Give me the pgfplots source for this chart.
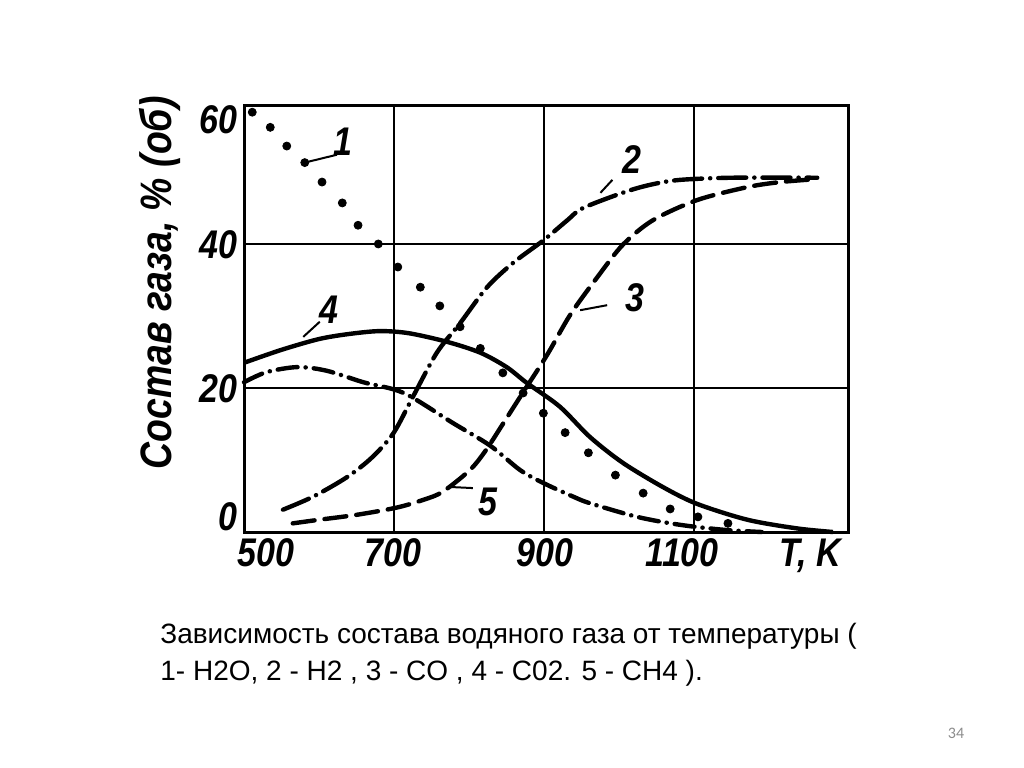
\documentclass[border=0pt]{standalone}
\usepackage{fontspec}
\setmainfont{Liberation Sans}
\newfontfamily\hand[FakeStretch=0.85]{Liberation Sans}
\newfontfamily\slidenum{Carlito}
\usepackage{pgfplots}
\pgfplotsset{compat=1.18}

% fonts for the hand-lettered figure
\newcommand\lbl{\hand\bfseries\itshape\fontsize{20}{20}\selectfont}
\newcommand\ylbl{\hand\bfseries\itshape\fontsize{22}{22}\selectfont}

\begin{document}
\begin{tikzpicture}
\path[use as bounding box, fill=white] (0,0) rectangle (512pt,383.5pt);

\begin{axis}[
  at={(122pt,117.5pt)}, anchor=south west,
  scale only axis, width=302pt, height=213.5pt,
  xmin=500, xmax=1305, ymin=0, ymax=59.3,
  axis line style={line width=1.5pt},
  xtick={529,699,901,1084,1255},
  xticklabels={500,700,900,1100,{T, K}},
  ytick={2.1,19.9,39.9,57.2},
  yticklabels={0,20,40,60},
  major tick length=0pt,
  ticklabel style={font=\lbl},
  extra x ticks={700,900,1100}, extra x tick labels={},
  extra y ticks={20,40}, extra y tick labels={},
  extra tick style={grid=major, major tick length=0pt},
  major grid style={black, line width=1pt},
  clip=false,
]
% 1 - H2O (dots)
\addplot[only marks, mark=*, mark size=2pt, black] coordinates {
 (511,58.3) (535,56.2) (557,53.6) (581,51.3) (604,48.6) (631,45.7)
 (652,42.6) (679,40.0) (705,36.8) (735,34.0) (761,31.4) (788,28.5)
 (815,25.5) (845,22.1) (872,19.3) (899,16.5) (928,13.8) (959,11.0)
 (995,7.9) (1032,5.4) (1068,3.2) (1105,2.1) (1145,1.2)};
% 2 - H2 (dash-dot)
\addplot[black, line width=2.2pt, smooth, line cap=round,
  dash pattern=on 14pt off 4pt on 0.1pt off 4pt] coordinates {
 (552,3.1) (592,4.9) (637,7.6) (670,10.3) (699,13.7) (725,18.75)
 (757,24.9) (788,29.0) (824,34.0) (859,37.4) (899,40.5) (931,43.3)
 (952,45.0) (1010,47.3) (1045,48.3) (1081,48.9) (1150,49.2) (1264,49.2)};
% 3 - CO (dashed)
\addplot[black, line width=2.2pt, smooth, line cap=round,
  dash pattern=on 11pt off 5pt] coordinates {
 (565,1.2) (600,1.7) (651,2.4) (704,3.4) (740,4.5) (765,5.6) (801,8.6)
 (822,11.3) (845,15.0) (872,19.4) (904,24.6) (935,30.2) (971,35.4)
 (1005,39.9) (1045,43.3) (1104,46.1) (1171,47.9) (1215,48.6) (1262,49.0)};
% 4 - CO2 (solid)
\addplot[black, line width=2.2pt, smooth] coordinates {
 (500,23.5) (550,25.3) (600,26.8) (640,27.5) (681,27.9) (720,27.6)
 (771,26.4) (815,24.9) (850,22.9) (877,20.7) (921,17.4) (961,13.2)
 (1005,9.6) (1059,6.2) (1104,3.9) (1171,1.7) (1237,0.5) (1285,0)};
% 5 - CH4 (dash-dot)
\addplot[black, line width=2.2pt, smooth, line cap=round,
  dash pattern=on 10pt off 4pt on 0.1pt off 4pt] coordinates {
 (500,20.8) (530,22.2) (571,22.9) (610,22.4) (659,20.8) (713,19.3)
 (779,15.1) (828,12.0) (868,8.6) (899,6.8) (939,4.9) (961,4.0)
 (1024,2.1) (1081,1.0) (1140,0.3) (1190,0)};

% leaders to the curve numbers
\addplot[black, line width=1pt] coordinates {(581,51.3) (624,52.4)};
\addplot[black, line width=1pt] coordinates {(975,47.1) (991,48.9)};
\addplot[black, line width=1pt] coordinates {(948,30.8) (984,31.5)};
\addplot[black, line width=1pt] coordinates {(579,27.1) (601,29.2)};
\addplot[black, line width=1pt] coordinates {(775,6.25) (805,6.1)};
\node[font=\lbl] at (axis cs:632,54.2) {1};
\node[font=\lbl] at (axis cs:1017,51.7) {2};
\node[font=\lbl] at (axis cs:1021,32.5) {3};
\node[font=\lbl] at (axis cs:613,30.8) {4};
\node[font=\lbl] at (axis cs:825,4.2) {5};
\end{axis}

\node[rotate=90, font=\ylbl] at (80pt,242pt) {Состав газа, \% (об)};

\node[anchor=base west, inner sep=0, font=\fontsize{14}{16}\selectfont]
  at (80pt,62pt) {Зависимость состава водяного газа от температуры (};
\node[anchor=base west, inner sep=0, font=\fontsize{14}{16}\selectfont]
  at (80pt,43.5pt) {1- H2O, 2 - H2 , 3 - CO , 4 - C02. 5 - CH4 ).};
\node[font=\slidenum\fontsize{8}{8}\selectfont, text=black!45]
  at (478pt,17pt) {34};
\end{tikzpicture}
\end{document}
